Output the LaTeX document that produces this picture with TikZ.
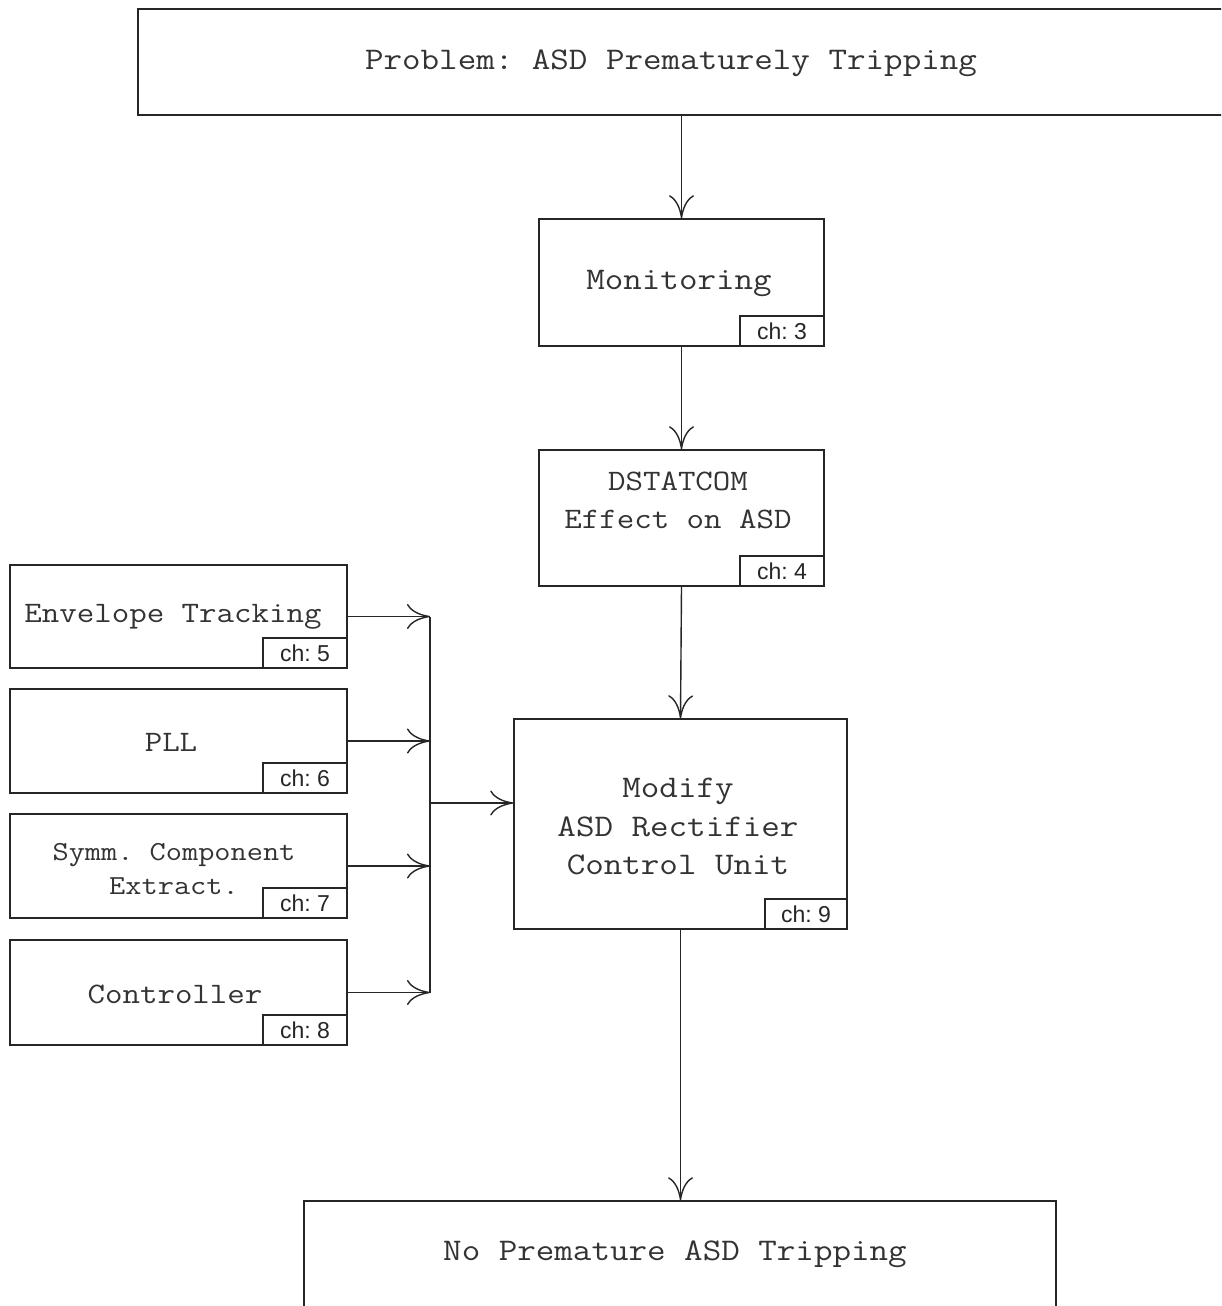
\documentclass[tikz,border=0pt]{standalone}
\usepackage{fontspec}
\setmainfont{Liberation Sans}
\newfontfamily\courfont{Latin Modern Mono}[FakeStretch=1.143]
\usetikzlibrary{arrows.meta}

\begin{document}
\frenchspacing
\begin{tikzpicture}[x=1pt,y=-1pt,
  box/.style={draw=black!85,line width=1.5pt,rectangle,inner sep=0pt},
  chtag/.style={draw=black!85,line width=1.3pt,fill=white,inner sep=0pt,
    minimum width=84pt,minimum height=30pt,text=black!85,
    font=\fontsize{23}{23}\selectfont,anchor=south east},
  lbl/.style={align=center,inner sep=0pt,text=black!80},
  big/.style={font=\courfont\frenchspacing\fontsize{31.5}{38.5}\selectfont},
  mid/.style={font=\courfont\frenchspacing\fontsize{29.7}{38}\selectfont},
  small/.style={font=\courfont\frenchspacing\fontsize{27.5}{34}\selectfont},
  wire/.style={draw=black!85,line width=1.4pt},
  arr/.style={wire,-{Computer Modern Rightarrow[length=23pt,width=25pt]}},
]
\clip (0,0) rectangle (1221,1306);
\fill[white] (0,0) rectangle (1221,1306);

% main column
\node[box,minimum width=1102pt,minimum height=106pt] (prob) at (689,62) {};
\node[lbl,big] (probtxt) at (671,63) {Problem: ASD Prematurely Tripping};

\node[box,minimum width=285pt,minimum height=127pt] (mon) at (681.5,282.5) {};
\node[lbl,big] (montxt) at (679,283) {Monitoring};
\node[chtag] (ch3) at (mon.south east) {ch: 3};

\node[box,minimum width=285pt,minimum height=136pt] (dst) at (681.5,518) {};
\node[lbl,mid] (dsttxt) at (678,500) {DSTATCOM\\Effect on ASD};
\node[chtag] (ch4) at (dst.south east) {ch: 4};

\node[box,minimum width=333pt,minimum height=210pt] (mod) at (680.5,824) {};
\node[lbl,big] (modtxt) at (678,826.5) {Modify\\ASD Rectifier\\Control Unit};
\node[chtag,minimum width=82pt] (ch9) at (mod.south east) {ch: 9};

\node[box,minimum width=752pt,minimum height=119pt] (out) at (680,1260.5) {};
\node[lbl,big] (outtxt) at (675,1254) {No Premature ASD Tripping};

% side column
\node[box,minimum width=337pt,minimum height=103pt] (env) at (178.5,616.5) {};
\node[lbl,mid] (envtxt) at (173,617) {Envelope Tracking};
\node[chtag] (ch5) at (env.south east) {ch: 5};

\node[box,minimum width=337pt,minimum height=104pt] (pll) at (178.5,741) {};
\node[lbl,mid] (plltxt) at (171,742) {PLL};
\node[chtag] (ch6) at (pll.south east) {ch: 6};

\node[box,minimum width=337pt,minimum height=104pt] (sym) at (178.5,866) {};
\node[lbl,small] (symtxt) at (174,869) {Symm. Component\\Extract.};
\node[chtag] (ch7) at (sym.south east) {ch: 7};

\node[box,minimum width=337pt,minimum height=105pt] (ctl) at (178.5,992.5) {};
\node[lbl,mid] (ctltxt) at (175,994) {Controller};
\node[chtag] (ch8) at (ctl.south east) {ch: 8};

% collecting bus
\coordinate (busTop) at (430,617);
\coordinate (busBot) at (430,993);
\coordinate (busOut) at (430,803);
\draw[wire] (busTop) -- (busBot);
\draw[arr] (env.east) -- (env.east -| busTop);
\draw[arr] (pll.east) -- (pll.east -| busTop);
\draw[arr] (sym.east) -- (sym.east -| busTop);
\draw[arr] (ctl.east) -- (ctl.east -| busTop);
\draw[arr] (busOut) -- (busOut -| mod.west);

% main flow
\draw[arr] (prob.south -| mon.north) -- (mon.north);
\draw[arr] (mon.south) -- (dst.north);
\draw[arr] (dst.south) -- (mod.north);
\draw[arr] (mod.south) -- (mod.south |- out.north);
\end{tikzpicture}
\end{document}
